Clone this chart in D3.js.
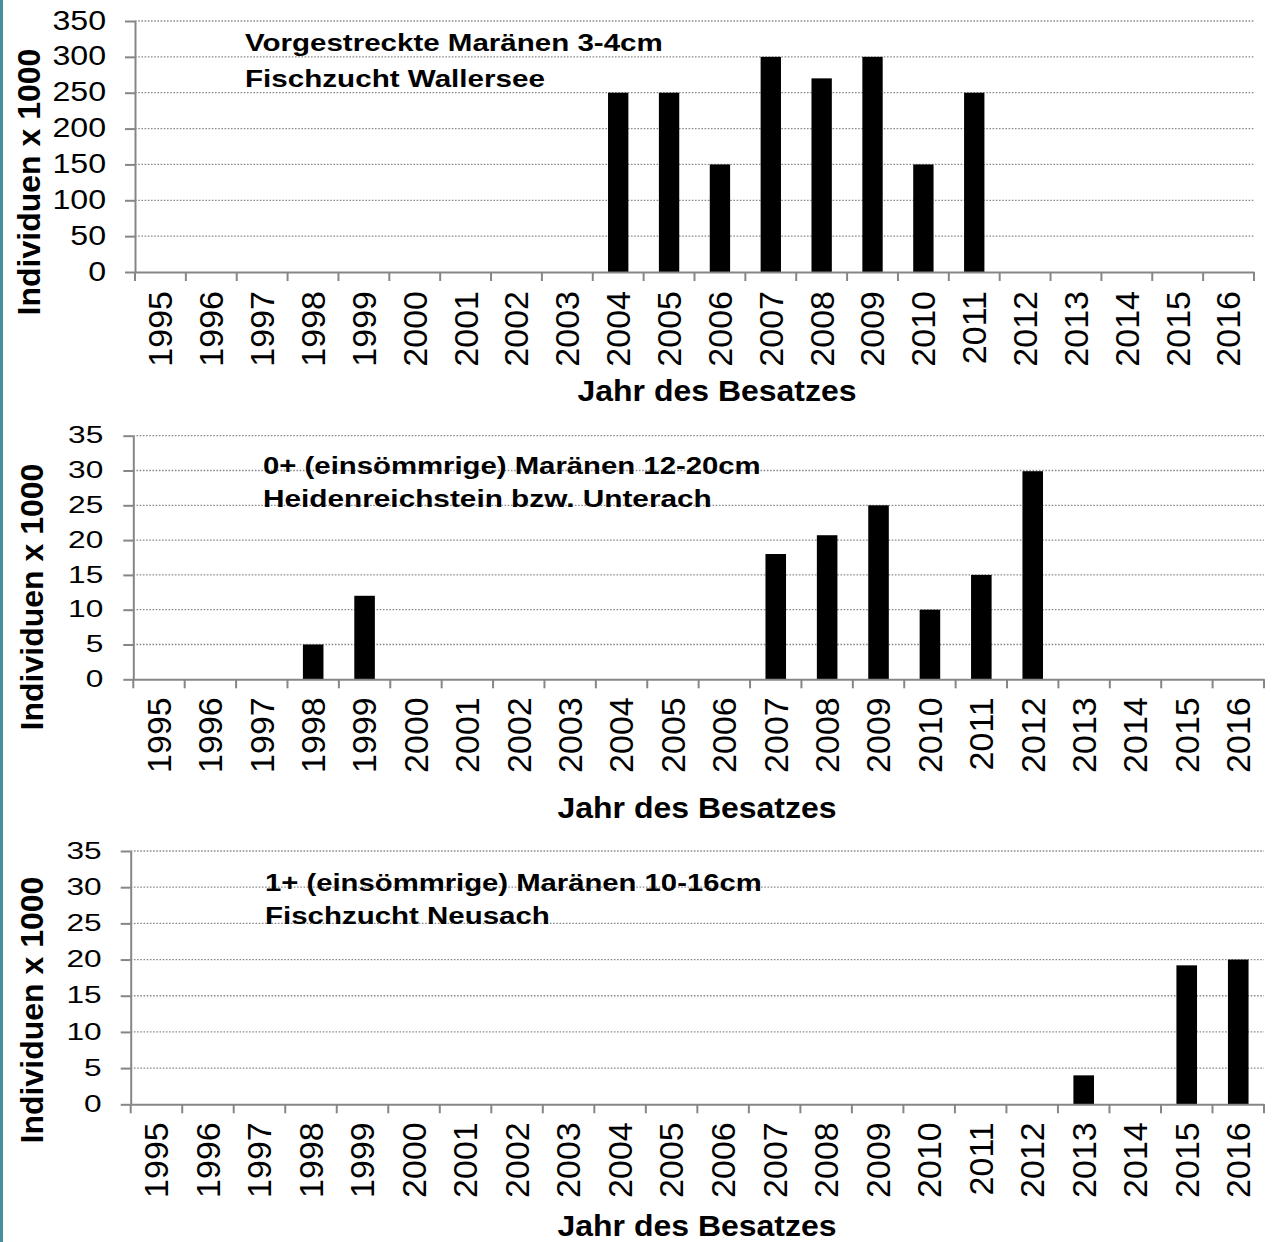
<!DOCTYPE html>
<html><head><meta charset="utf-8">
<script src="https://cdn.jsdelivr.net/npm/d3@7"></script>
<style>
body{margin:0;background:#fff}
svg{display:block}
text{font-family:"Liberation Sans",Arial,Helvetica,sans-serif;fill:#000}
</style>
</head><body>
<svg id="chart" width="1273" height="1242"></svg>
<script>
// ---------- data ----------
const years = ["1995","1996","1997","1998","1999","2000","2001","2002","2003","2004","2005",
               "2006","2007","2008","2009","2010","2011","2012","2013","2014","2015","2016"];
const vorgestreckt = [0,0,0,0,0,0,0,0,0,250,250,150,300,270,300,150,250,0,0,0,0,0];
const einsoemmrig0 = [0,0,0,5,12,0,0,0,0,0,0,0,18,20.7,25,10,15,29.9,0,0,0,0];
const einsoemmrig1 = [0,0,0,0,0,0,0,0,0,0,0,0,0,0,0,0,0,0,4,0,19.2,20];
const yTicksA = [0,50,100,150,200,250,300,350];
const yTicksB = [0,5,10,15,20,25,30,35];
const titleA = ["Vorgestreckte Maränen 3-4cm","Fischzucht Wallersee"];
const titleB = ["0+ (einsömmrige) Maränen 12-20cm","Heidenreichstein bzw. Unterach"];
const titleC = ["1+ (einsömmrige) Maränen 10-16cm","Fischzucht Neusach"];
const xAxisTitle = "Jahr des Besatzes";
const yAxisTitle = "Individuen x 1000";

// ---------- layout ----------
const panels = [
  {values:vorgestreckt, ticks:yTicksA, max:350, titles:titleA,
   x0:135, x1:1254, yTop:21, y0:272, tickFs:27, tickSx:1.19, tickGap:29,
   tX:245, tY:[51,87], tFs:23.5, tLen:[418,300],
   xtX:717, xtY:401, ytX:40, ytCy:182, yearGap:19},
  {values:einsoemmrig0, ticks:yTicksB, max:35, titles:titleB,
   x0:133.3, x1:1264, yTop:435.7, y0:679.3, tickFs:24, tickSx:1.32, tickGap:30,
   tX:263, tY:[474,507], tFs:24, tLen:[498,449],
   xtX:697, xtY:818, ytX:43, ytCy:597, yearGap:18},
  {values:einsoemmrig1, ticks:yTicksB, max:35, titles:titleC,
   x0:130.7, x1:1264, yTop:851, y0:1104.3, tickFs:24, tickSx:1.32, tickGap:29,
   tX:265, tY:[891,924], tFs:24, tLen:[497,285],
   xtX:697, xtY:1236, ytX:43, ytCy:1010, yearGap:18}
];

const svg = d3.select("#chart");
svg.append("rect").attr("x",0).attr("y",0).attr("width",1273).attr("height",1242).attr("fill","#fff");
svg.append("rect").attr("x",0).attr("y",0).attr("width",3).attr("height",1242).attr("fill","#4a8d9d");

const axisColor = "#868686";

// place a text so that its rendered width equals targetW, by horizontal scaling
function fitText(parent, str, x, y, fs, weight, targetW, anchor) {
  const g = parent.append("g");
  const t = g.append("text").attr("font-size", fs).attr("font-weight", weight).text(str);
  const w = t.node().getComputedTextLength();
  const sx = targetW / w;
  let tx = x;
  if (anchor === "middle") tx = x - targetW / 2;
  g.attr("transform", `translate(${tx},${y}) scale(${sx},1)`);
  return g;
}

panels.forEach(p => {
  const g = svg.append("g");
  const x = d3.scaleBand().domain(years).range([p.x0, p.x1]).paddingInner(0.6).paddingOuter(0.3);
  const y = d3.scaleLinear().domain([0, p.max]).range([p.y0, p.yTop]);

  // gridlines (dotted)
  g.append("g").selectAll("line").data(p.ticks.filter(t => t > 0)).join("line")
    .attr("x1", p.x0).attr("x2", p.x1)
    .attr("y1", d => y(d)).attr("y2", d => y(d))
    .attr("stroke", "#8a8a8a").attr("stroke-width", 1.3).attr("stroke-dasharray", "1.6 1.6");

  // bars
  g.append("g").selectAll("rect").data(years.map((yr,i) => ({yr, v:p.values[i]})).filter(d => d.v > 0)).join("rect")
    .attr("x", d => x(d.yr)).attr("width", x.bandwidth())
    .attr("y", d => y(d.v)).attr("height", d => p.y0 - y(d.v))
    .attr("fill", "#000");

  // y axis
  const ya = g.append("g").attr("transform", `translate(${p.x0},0)`)
    .call(d3.axisLeft(y).tickValues(p.ticks).tickSize(10).tickSizeOuter(0).tickFormat(d3.format("d")));
  ya.select(".domain").attr("stroke", axisColor).attr("stroke-width", 2);
  ya.selectAll(".tick line").attr("stroke", axisColor).attr("stroke-width", 2);
  ya.selectAll(".tick text")
    .attr("font-size", p.tickFs).attr("font-family", '"Liberation Sans",Arial,sans-serif')
    .attr("fill", "#000")
    .attr("x", -p.tickGap / p.tickSx)
    .attr("transform", `scale(${p.tickSx},1)`)
    .attr("dy", "0.3em");

  // x axis line with boundary ticks
  const xa = g.append("g").attr("transform", `translate(0,${p.y0})`)
    .call(d3.axisBottom(x).tickSize(0).tickSizeOuter(0).tickFormat(""));
  xa.select(".domain").attr("stroke", axisColor).attr("stroke-width", 2);
  xa.selectAll(".tick").remove();
  const bounds = years.map(yr => x(yr) - x.step() * x.paddingInner() / 2).concat([p.x1]);
  g.append("g").selectAll("line").data(bounds).join("line")
    .attr("x1", d => d).attr("x2", d => d)
    .attr("y1", p.y0).attr("y2", p.y0 + 9)
    .attr("stroke", axisColor).attr("stroke-width", 2);

  // year labels
  g.append("g").selectAll("text").data(years).join("text")
    .attr("transform", d => `translate(${x(d) + x.bandwidth()/2},${p.y0 + p.yearGap}) rotate(-90)`)
    .attr("text-anchor", "end").attr("dy", "0.35em")
    .attr("font-size", 34)
    .text(d => d);

  // chart titles (horizontally stretched like the original)
  p.titles.forEach((t, i) => fitText(g, t, p.tX, p.tY[i], p.tFs, "bold", p.tLen[i], "start"));

  // axis titles
  fitText(g, xAxisTitle, p.xtX, p.xtY, 30, "bold", 279, "middle");
  g.append("text")
    .attr("transform", `translate(${p.ytX},${p.ytCy}) rotate(-90)`)
    .attr("text-anchor", "middle").attr("font-size", 32).attr("font-weight", "bold")
    .text(yAxisTitle);
});
</script>
</body></html>
